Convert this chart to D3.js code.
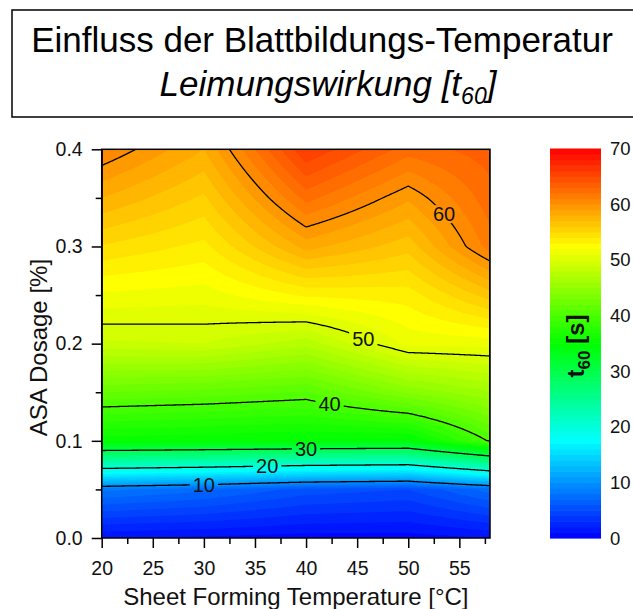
<!DOCTYPE html>
<html><head><meta charset="utf-8">
<script src="https://cdn.jsdelivr.net/npm/d3@7"></script>
<style>
html,body{margin:0;padding:0;background:#fff;}
svg{display:block;font-family:"Liberation Sans",Arial,sans-serif;}
</style></head><body>
<svg id="chart" width="633" height="609"></svg>
<script>
// ---------------- data ----------------
const temperatures = [20, 30, 40, 50, 58];                       // x grid (°C)
const dosages = [0, 0.05, 0.1, 0.15, 0.2, 0.25, 0.3, 0.35, 0.4]; // y grid (%)
// t60 [s], one row per dosage, one column per temperature
const t60Values = [
  [1.0, 0.8, 0.5, 0.5, 1.0],
  [8.3, 7.3, 5.6, 5.0, 7.5],
  [35.4, 35.1, 34.8, 34.5, 40.2],
  [42.0, 41.6, 40.9, 44.2, 45.9],
  [48.8, 49.0, 47.4, 51.3, 51.4],
  [51.8, 51.5, 53.2, 53.5, 56.5],
  [54.9, 53.7, 58.4, 56.4, 61.5],
  [58.0, 55.8, 62.4, 59.2, 62.6],
  [61.0, 58.0, 66.0, 62.5, 63.5]
];
const xTicks = [20, 25, 30, 35, 40, 45, 50, 55];
const xMinorTicks = [22.5, 27.5, 32.5, 37.5, 42.5, 47.5, 52.5, 57.5];
const yTicks = [0, 0.1, 0.2, 0.3, 0.4];
const yMinorTicks = [0.05, 0.15, 0.25, 0.35];
const colorTicks = [0, 10, 20, 30, 40, 50, 60, 70];
const contourLevels = [10, 20, 30, 40, 50, 60];
const labelTemperatures = [30.0, 36.2, 40.0, 42.3, 45.6, 53.5];
const colorStops = ["#0000ff", "#00ffff", "#00ff00", "#ffff00", "#ff0000"];
const colorStopValues = [0, 17.5, 35, 52.5, 70];

// ---------------- setup ----------------
const svg = d3.select("#chart");
const x = d3.scaleLinear().domain([20, 58]).range([101.7, 490]);
const y = d3.scaleLinear().domain([0, 0.4]).range([538, 149.3]);
const color = d3.scaleLinear().domain(colorStopValues).range(colorStops).clamp(true);
const FONT = '"Liberation Sans",Arial,sans-serif';

function valueAt(tx, dv) {
  let i = d3.bisectRight(temperatures, tx) - 1;
  i = Math.max(0, Math.min(temperatures.length - 2, i));
  let j = d3.bisectRight(dosages, dv) - 1;
  j = Math.max(0, Math.min(dosages.length - 2, j));
  const u = (tx - temperatures[i]) / (temperatures[i + 1] - temperatures[i]);
  const v = (dv - dosages[j]) / (dosages[j + 1] - dosages[j]);
  const a = t60Values[j][i], b = t60Values[j][i + 1];
  const c = t60Values[j + 1][i], d = t60Values[j + 1][i + 1];
  return a * (1 - u) * (1 - v) + b * u * (1 - v) + c * (1 - u) * v + d * u * v;
}

// raster of the interpolated surface, one cell per screen pixel
const nx = Math.round(x.range()[1] - x.range()[0]);
const ny = Math.round(y.range()[0] - y.range()[1]);
const gx = d3.scaleLinear().domain([0, nx]).range(x.domain());
const gy = d3.scaleLinear().domain([0, ny]).range([y.domain()[1], y.domain()[0]]);
const grid = new Float64Array(nx * ny);
for (let j = 0; j < ny; j++) {
  const dv = gy(j + 0.5);
  for (let i = 0; i < nx; i++) grid[j * nx + i] = valueAt(gx(i + 0.5), dv);
}
const path = d3.geoPath(d3.geoTransform({
  point(cx, cy) { this.stream.point(x(gx(cx)), y(gy(cy))); }
}));

// ---------------- title box ----------------
svg.append("rect").attr("x", 12).attr("y", 10).attr("width", 640).attr("height", 107)
  .attr("fill", "#fff").attr("stroke", "#000").attr("stroke-width", 1.5);
svg.append("text").attr("x", 322).attr("y", 52).attr("text-anchor", "middle")
  .attr("font-size", 35).attr("fill", "#000").text("Einfluss der Blattbildungs-Temperatur");
const t2 = svg.append("text").attr("x", 328).attr("y", 96).attr("text-anchor", "middle")
  .attr("font-size", 35).attr("font-style", "italic").attr("fill", "#000");
t2.append("tspan").text("Leimungswirkung [t");
t2.append("tspan").attr("font-size", 23).attr("dy", 8).text("60");
t2.append("tspan").attr("dy", -8).text("]");

// ---------------- defs ----------------
const defs = svg.append("defs");
defs.append("clipPath").attr("id", "plotClip").append("rect")
  .attr("x", x.range()[0]).attr("y", y.range()[1])
  .attr("width", x.range()[1] - x.range()[0]).attr("height", y.range()[0] - y.range()[1]);
const mask = defs.append("mask").attr("id", "labelGap").attr("maskUnits", "userSpaceOnUse")
  .attr("x", 0).attr("y", 0).attr("width", 633).attr("height", 609);
mask.append("rect").attr("width", 633).attr("height", 609).attr("fill", "#fff");

// ---------------- filled contours ----------------
const fillLevels = d3.range(0, 70, 1);
const bands = d3.contours().size([nx, ny]).thresholds(fillLevels)(grid);
const plot = svg.append("g").attr("clip-path", "url(#plotClip)");
plot.selectAll("path.band").data(bands).join("path").attr("class", "band")
  .attr("d", path).attr("fill", d => color(d.value + 0.5));

// ---------------- contour lines ----------------
const lines = d3.contours().size([nx, ny]).thresholds(contourLevels)(grid);
plot.append("g").attr("mask", "url(#labelGap)")
  .selectAll("path").data(lines).join("path")
  .attr("d", path).attr("fill", "none").attr("stroke", "#000").attr("stroke-width", 1.3)
  .attr("stroke-linejoin", "round");

// labels: locate where each level crosses the chosen temperature
function crossing(tx, level) {
  let prev = valueAt(tx, 0);
  const step = 0.0005;
  for (let dv = step; dv <= 0.4 + 1e-9; dv += step) {
    const v = valueAt(tx, dv);
    if ((prev - level) * (v - level) <= 0) {
      return dv - step + step * (level - prev) / (v - prev);
    }
    prev = v;
  }
  return null;
}
const labelG = svg.append("g");
contourLevels.forEach((lev, k) => {
  const tx = labelTemperatures[k];
  const dv = crossing(tx, lev);
  if (dv === null) return;
  const t = labelG.append("text").attr("x", x(tx)).attr("y", y(dv)).attr("dy", "0.36em")
    .attr("text-anchor", "middle").attr("font-size", 20).attr("fill", "#111").text(lev);
  const w = t.node().getComputedTextLength();
  mask.append("rect").attr("x", x(tx) - w / 2 - 3).attr("y", y(dv) - 9)
    .attr("width", w + 6).attr("height", 18).attr("fill", "#000");
});

// ---------------- axes ----------------
function styleAxis(g) {
  g.select(".domain").remove();
  g.selectAll("line").attr("stroke", "#000").attr("stroke-width", 1.5);
  g.selectAll("text").attr("fill", "#111").attr("font-size", 19.5).attr("font-family", FONT);
}
svg.append("g").attr("transform", `translate(0,${y.range()[0]})`)
  .call(d3.axisBottom(x).tickValues(xTicks).tickSize(10).tickPadding(13).tickFormat(d3.format("d")))
  .call(styleAxis);
svg.append("g").attr("transform", `translate(0,${y.range()[0]})`)
  .call(d3.axisBottom(x).tickValues(xMinorTicks).tickSize(6).tickFormat(""))
  .call(styleAxis);
svg.append("g").attr("transform", `translate(${x.range()[0]},0)`)
  .call(d3.axisLeft(y).tickValues(yTicks).tickSize(10).tickPadding(9).tickFormat(d3.format(".1f")))
  .call(styleAxis);
svg.append("g").attr("transform", `translate(${x.range()[0]},0)`)
  .call(d3.axisLeft(y).tickValues(yMinorTicks).tickSize(6).tickFormat(""))
  .call(styleAxis);

// frame
svg.append("rect").attr("x", x.range()[0]).attr("y", y.range()[1])
  .attr("width", x.range()[1] - x.range()[0]).attr("height", y.range()[0] - y.range()[1])
  .attr("fill", "none").attr("stroke", "#000").attr("stroke-width", 1.5);

// axis titles
svg.append("text").attr("x", (x.range()[0] + x.range()[1]) / 2).attr("y", 605)
  .attr("text-anchor", "middle").attr("font-size", 24).attr("fill", "#111")
  .text("Sheet Forming Temperature [°C]");
svg.append("text").attr("transform", `translate(47,${(y.range()[0] + y.range()[1]) / 2 + 4}) rotate(-90)`)
  .attr("text-anchor", "middle").attr("font-size", 24).attr("fill", "#111")
  .text("ASA Dosage [%]");

// ---------------- color bar ----------------
const cy = d3.scaleLinear().domain([0, 70]).range([538, 148.5]);
const cb = svg.append("g");
cb.selectAll("rect").data(fillLevels).join("rect")
  .attr("x", 550).attr("width", 51)
  .attr("y", d => cy(d + 1)).attr("height", d => cy(d) - cy(d + 1) + 0.6)
  .attr("fill", d => color(d + 0.5));
cb.selectAll("text").data(colorTicks).join("text")
  .attr("x", 610).attr("y", d => cy(d)).attr("dy", "0.36em")
  .attr("font-size", 18.5).attr("fill", "#111").text(d => d);
const ct = svg.append("text").attr("transform", "translate(584,346) rotate(-90)")
  .attr("text-anchor", "middle").attr("font-size", 24).attr("font-weight", "bold").attr("fill", "#111");
ct.append("tspan").text("t");
ct.append("tspan").attr("font-size", 17).attr("dy", 6).text("60");
ct.append("tspan").attr("dy", -6).text(" [s]");
</script>
</body></html>
